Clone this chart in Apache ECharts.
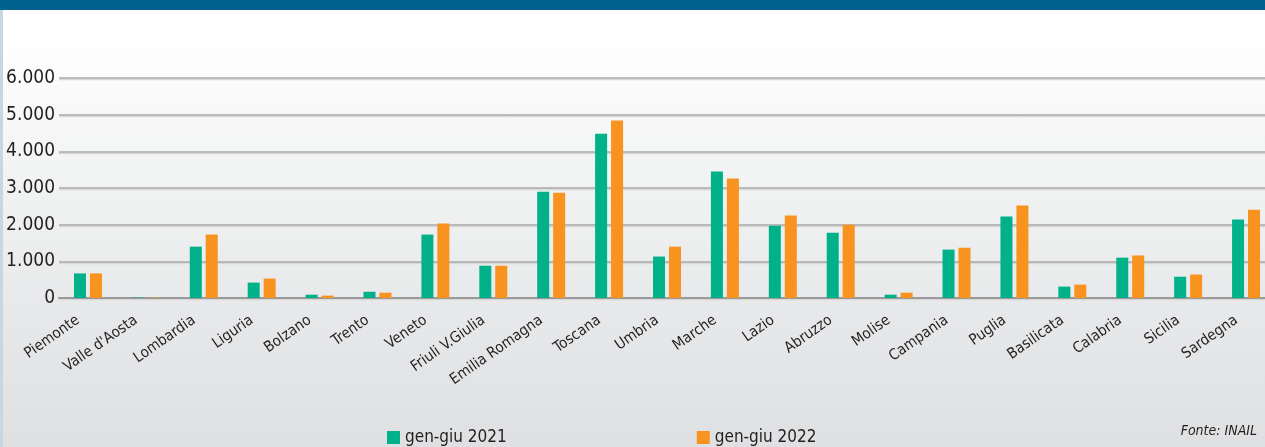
<!DOCTYPE html>
<html>
<head>
<meta charset="utf-8">
<script src="https://cdn.jsdelivr.net/npm/echarts@6/dist/echarts.min.js"></script>
<style>
  html, body { margin: 0; padding: 0; }
  #chart {
    width: 1265px; height: 447px;
    background: linear-gradient(to bottom, #ffffff 0px, #ffffff 40px, #f4f5f5 150px, #e8e9ea 300px, #dfe0e2 447px);
  }
</style>
</head>
<body>
<div id="chart"></div>
<script>
// Regioni
var regioni = ['Piemonte', "Valle d'Aosta", 'Lombardia', 'Liguria', 'Bolzano', 'Trento', 'Veneto',
  'Friuli V.Giulia', 'Emilia Romagna', 'Toscana', 'Umbria', 'Marche', 'Lazio', 'Abruzzo', 'Molise',
  'Campania', 'Puglia', 'Basilicata', 'Calabria', 'Sicilia', 'Sardegna'];

// Valori
var gen2021 = [670, 10, 1400, 420, 90, 170, 1730, 880, 2900, 4480, 1130, 3450, 1970, 1780, 90,
  1320, 2220, 310, 1100, 580, 2140];
var gen2022 = [670, 10, 1730, 530, 65, 145, 2030, 880, 2870, 4840, 1400, 3260, 2250, 2000, 145,
  1370, 2520, 365, 1160, 640, 2410];

var serie = ['gen-giu 2021', 'gen-giu 2022'];
var font = '"DejaVu Sans Condensed", "Liberation Sans Narrow", sans-serif';

var chartDom = document.getElementById('chart');
var myChart = echarts.init(chartDom);

var option = {
  animation: false,
  backgroundColor: 'transparent',
  grid: {
    left: 59,
    right: -10,
    top: 78,
    bottom: 149,
    outerBoundsMode: 'none'
  },
  legend: {
    data: serie,
    left: 382,
    top: 424,
    itemWidth: 13,
    itemHeight: 13,
    itemGap: 190,
    icon: 'rect',
    textStyle: { fontFamily: font, fontSize: 17, color: '#231f20' }
  },
  xAxis: {
    type: 'category',
    data: regioni,
    axisTick: { show: false },
    axisLine: { lineStyle: { color: '#9a9a9c', width: 2 } },
    axisLabel: {
      rotate: 35,
      interval: 0,
      margin: 14,
      padding: [0, 12, 0, 0],
      fontFamily: font,
      fontSize: 15,
      color: '#231f20'
    }
  },
  yAxis: {
    type: 'value',
    min: 0,
    max: 6000,
    interval: 1000,
    axisLine: { show: false },
    axisTick: { show: false },
    splitLine: {
      lineStyle: { color: '#a8a8aa', width: 1.5, shadowColor: '#d8d8d8', shadowOffsetY: 1.5 }
    },
    axisLabel: {
      margin: 4,
      fontFamily: font,
      fontSize: 19,
      color: '#231f20',
      formatter: function (v) {
        return v >= 1000 ? (v / 1000) + '.000' : String(v);
      }
    }
  },
  series: [
    {
      name: serie[0],
      type: 'bar',
      data: gen2021,
      barWidth: 12,
      barGap: '33%',
      itemStyle: { color: '#00b189' }
    },
    {
      name: serie[1],
      type: 'bar',
      data: gen2022,
      barWidth: 12,
      barGap: '33%',
      itemStyle: { color: '#f7931e' }
    }
  ],
  graphic: [
    { type: 'rect', left: 0, top: 0, shape: { width: 1265, height: 10 }, style: { fill: '#00618e' } },
    { type: 'rect', left: 0, top: 10, shape: { width: 3, height: 437 }, style: { fill: '#c7d7e2' } },
    {
      type: 'text', right: 8, top: 424,
      style: { text: 'Fonte: INAIL', font: 'italic 14px ' + font, fill: '#231f20' }
    }
  ]
};

myChart.setOption(option);
</script>
</body>
</html>
